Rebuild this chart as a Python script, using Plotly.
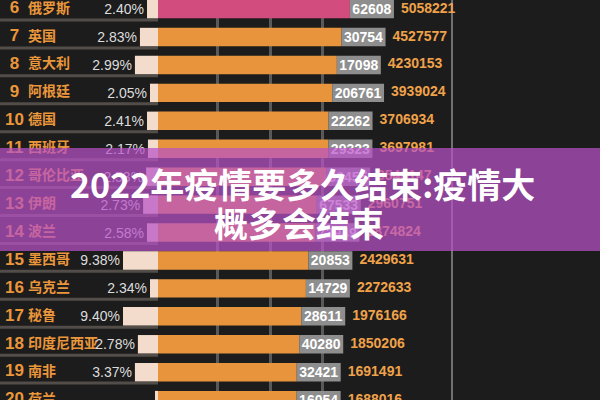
import plotly.graph_objects as go

# ---------------- data ----------------
ranks = [6, 7, 8, 9, 10, 11, 12, 13, 14, 15, 16, 17, 18, 19, 20]
countries = ["俄罗斯", "英国", "意大利", "阿根廷", "德国", "西班牙", "哥伦比亚", "伊朗",
             "波兰", "墨西哥", "乌克兰", "秘鲁", "印度尼西亚", "南非", "荷兰"]
rate_labels = ["2.40%", "2.83%", "2.99%", "2.05%", "2.41%", "2.17%", "2.53%", "2.73%",
               "2.58%", "9.38%", "2.34%", "9.40%", "2.78%", "3.37%", "1.06%"]
# length of the pale rate bar as shown in this frame (percent units)
rate_bar = [2.95, 4.85, 6.2, 2.15, 2.95, 2.7, 3.2, 4.0, 2.95, 9.4, 2.15, 9.4, 5.4, 6.2, 0.8]
deaths = [62608, 30754, 17098, 206761, 22262, 29323, 92455, 67533, 73949, 20853,
          14729, 28611, 40280, 32421, 16054]
totals = [5058221, 4527577, 4230153, 3939024, 3706934, 3697981, 3548147, 2960751,
          2874824, 2429631, 2272633, 1976166, 1850206, 1691491, 1688016]
title_lines = ["2022年疫情要多久结束:疫情大", "概多会结束"]

# ---------------- styling / layout helpers ----------------
W, H = 600, 400
S = 1.58e-5            # pixels per case on the main axis
ZERO_PX = 270          # pixel position of zero cases
X0 = -ZERO_PX / S
X1 = X0 + W / S
def px2x(p):
    return X0 + p / S

LEFT_PX = 158
BAR_LEFT = px2x(LEFT_PX)
RATE_RANGE = LEFT_PX * 9.4 / 35.0

ORANGE = "#e8943c"
PINK = "#d24d7e"
LABEL_OR = "#ea963b"
TOTAL_OR = "#f0a24a"
NUMFONT = "Liberation Sans, Arial, Noto Sans CJK SC"
CJKFONT = "Noto Sans CJK SC, Liberation Sans"

n = len(ranks)
k = list(range(n))
bar_colors = [PINK if i == 0 else ORANGE for i in k]
box_px = [len(str(d)) * 7.8 + 5 for d in deaths]
BW = 0.66

fig = go.Figure()

# main orange bars (total cases)
fig.add_trace(go.Bar(
    y=k, x=[t - BAR_LEFT for t in totals], base=BAR_LEFT, orientation="h",
    marker=dict(color=bar_colors, line=dict(width=0)), width=BW,
    xaxis="x", yaxis="y", hoverinfo="skip"))

# grey boxes at bar ends
fig.add_trace(go.Bar(
    y=k, x=[bp / S for bp in box_px], base=totals, orientation="h",
    marker=dict(color="#8e8e8e", line=dict(width=0)), width=BW,
    text=[str(d) for d in deaths], textposition="inside", insidetextanchor="middle",
    textangle=0, constraintext="none",
    textfont=dict(color="white", size=14, family=NUMFONT, weight="bold"),
    xaxis="x", yaxis="y", hoverinfo="skip"))

# totals text
fig.add_trace(go.Scatter(
    y=k, x=[t + (bp + 7) / S for t, bp in zip(totals, box_px)], mode="text",
    text=[str(t) for t in totals], textposition="middle right",
    textfont=dict(color=TOTAL_OR, size=14, family=NUMFONT, weight="bold"),
    xaxis="x", yaxis="y", hoverinfo="skip"))

# rank numbers
fig.add_trace(go.Scatter(
    y=k, x=[px2x(14.5)] * n, mode="text", text=[str(r) for r in ranks],
    textposition="middle center",
    textfont=dict(color=LABEL_OR, size=17, family=NUMFONT, weight="bold"),
    xaxis="x", yaxis="y", hoverinfo="skip"))

# country names
fig.add_trace(go.Scatter(
    y=k, x=[px2x(28)] * n, mode="text", text=countries,
    textposition="middle right",
    textfont=dict(color=LABEL_OR, size=14, family=CJKFONT, weight="bold"),
    xaxis="x", yaxis="y", hoverinfo="skip"))

# pale rate bars growing leftwards
fig.add_trace(go.Bar(
    y=k, x=rate_bar, orientation="h", xaxis="x2", yaxis="y",
    marker=dict(color="#f3dccb", line=dict(width=0)), width=BW,
    text=rate_labels, textposition="outside", textangle=0, constraintext="none",
    cliponaxis=False, textfont=dict(color="#dcdcdc", size=14, family=NUMFONT),
    hoverinfo="skip"))

shapes = []
# grey separators in the label column
for i in k:
    shapes.append(dict(type="line", xref="paper", yref="y", x0=0, x1=LEFT_PX / W,
                       y0=i + 0.39, y1=i + 0.39, line=dict(color="#524d49", width=3),
                       layer="below"))
# right vertical rule
shapes.append(dict(type="line", xref="paper", yref="paper", x0=452 / W, x1=452 / W,
                   y0=0, y1=1, line=dict(color="#707070", width=2), layer="below"))
# translucent purple title band
shapes.append(dict(type="rect", xref="paper", yref="paper", x0=0, x1=1,
                   y0=1 - 251 / H, y1=1 - 148 / H, fillcolor="rgba(185,82,200,0.72)",
                   line=dict(width=0), layer="above"))

annotations = [
    dict(text=title_lines[0], x=302 / W, y=1 - 183 / H, xref="paper", yref="paper",
         xanchor="center", yanchor="middle", showarrow=False,
         font=dict(color="white", size=34, family=CJKFONT, weight="bold")),
    dict(text=title_lines[1], x=299 / W, y=1 - 222 / H, xref="paper", yref="paper",
         xanchor="center", yanchor="middle", showarrow=False,
         font=dict(color="white", size=34, family=CJKFONT, weight="bold")),
]

fig.update_layout(
    width=W, height=H, margin=dict(l=0, r=0, t=0, b=0),
    paper_bgcolor="#1c1c1c", plot_bgcolor="rgba(0,0,0,0)",
    barmode="overlay", showlegend=False,
    xaxis=dict(domain=[0, 1], range=[X0, X1], tickvals=[-3.35e6, 0, 3.35e6],
               showgrid=True, gridcolor="#595959", gridwidth=3,
               showticklabels=False, zeroline=False, ticks="", fixedrange=True),
    xaxis2=dict(domain=[0, LEFT_PX / W], range=[RATE_RANGE, 0], anchor="y",
                showgrid=False, showticklabels=False, zeroline=False, ticks=""),
    yaxis=dict(domain=[0, 1], range=[13.996, -0.326], showgrid=False,
               showticklabels=False, zeroline=False, ticks=""),
    shapes=shapes, annotations=annotations,
)

fig.write_html("out.html")
